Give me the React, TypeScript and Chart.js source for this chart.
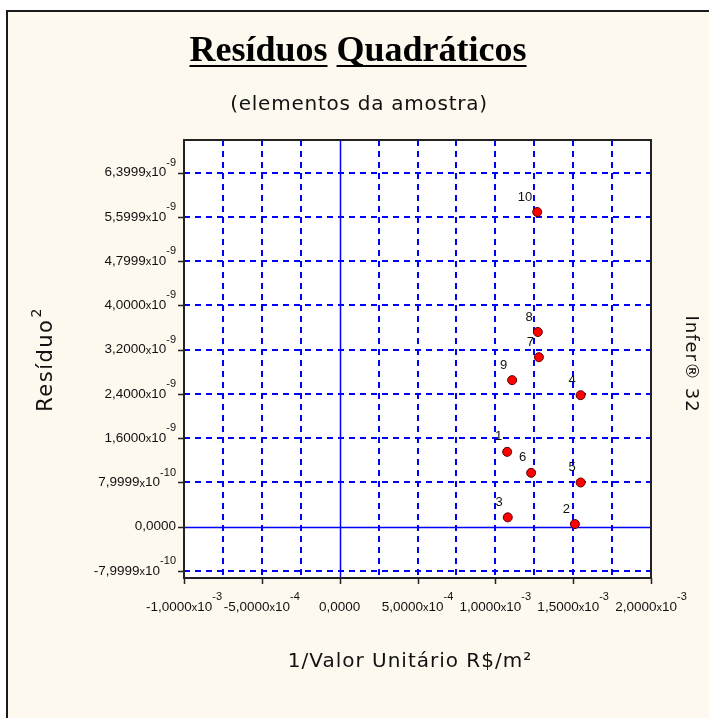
import React, { useEffect, useRef } from 'react';
import { Chart, registerables } from 'chart.js';

Chart.register(...registerables);

// ---- data ----
const pointLabels = ['1', '2', '3', '4', '5', '6', '7', '8', '9', '10'];
const pointX = [1.076e-3, 1.511e-3, 1.080e-3, 1.548e-3, 1.548e-3, 1.230e-3, 1.280e-3, 1.273e-3, 1.108e-3, 1.269e-3];
const pointY = [1.354e-9, 0.049e-9, 0.17e-9, 2.378e-9, 0.80e-9, 0.975e-9, 3.065e-9, 3.52e-9, 2.65e-9, 5.689e-9];

const xMin = -1e-3;
const xMax = 2e-3;
const yMin = -0.926e-9;
const yMax = 6.99e-9;

const xGridValues = [-1e-3, -7.5e-4, -5e-4, -2.5e-4, 0, 2.5e-4, 5e-4, 7.5e-4, 1e-3, 1.25e-3, 1.5e-3, 1.75e-3, 2e-3];
const xTickValues = [-1e-3, -5e-4, 0, 5e-4, 1e-3, 1.5e-3, 2e-3];
const xTickLabels = ['-1,0000x10^-3', '-5,0000x10^-4', '0,0000', '5,0000x10^-4', '1,0000x10^-3', '1,5000x10^-3', '2,0000x10^-3'];
const yTickValues = [-8e-10, 0, 8e-10, 1.6e-9, 2.4e-9, 3.2e-9, 4e-9, 4.8e-9, 5.6e-9, 6.4e-9];
const yTickLabels = ['-7,9999x10^-10', '0,0000', '7,9999x10^-10', '1,6000x10^-9', '2,4000x10^-9', '3,2000x10^-9', '4,0000x10^-9', '4,7999x10^-9', '5,5999x10^-9', '6,3999x10^-9'];

const titleText = 'Resíduos Quadráticos';
const subtitleText = '(elementos da amostra)';
const xTitleText = '1/Valor Unitário R$/m²';
const yTitleBase = 'Resíduo';
const yTitleSup = '2';
const sideText = 'Infer® 32';

const CREAM = '#fef9ee';
const BLUE = '#0000ff';

function setSpacing(ctx: CanvasRenderingContext2D, px: number) {
  (ctx as any).letterSpacing = px + 'px';
}

function drawSciLabel(ctx: CanvasRenderingContext2D, label: string, x: number, y: number, align: 'right' | 'center') {
  const parts = label.split('^');
  const mant = parts[0];
  const exp = parts[1] || '';
  let base = mant;
  let hasX = false;
  if (mant.endsWith('x10')) {
    base = mant.slice(0, -3);
    hasX = true;
  }
  const fMain = '13.5px "Liberation Sans", Arial, sans-serif';
  const fSmall = '11px "Liberation Sans", Arial, sans-serif';
  ctx.font = fMain;
  const wBase = ctx.measureText(base).width;
  const w10 = hasX ? ctx.measureText('10').width : 0;
  ctx.font = fSmall;
  const wX = hasX ? ctx.measureText('x').width : 0;
  const wExp = exp ? ctx.measureText(exp).width : 0;
  const total = wBase + wX + w10 + wExp;
  let sx = align === 'right' ? x - total : x - total / 2;
  ctx.textAlign = 'left';
  ctx.textBaseline = 'middle';
  ctx.fillStyle = '#111';
  ctx.font = fMain;
  ctx.fillText(base, sx, y);
  sx += wBase;
  if (hasX) {
    ctx.font = fSmall;
    ctx.fillText('x', sx, y + 1);
    sx += wX;
    ctx.font = fMain;
    ctx.fillText('10', sx, y);
    sx += w10;
  }
  if (exp) {
    ctx.font = fSmall;
    ctx.fillText(exp, sx, y - 10);
  }
}

const decorPlugin = {
  id: 'decor',
  beforeDraw(chart: any) {
    const ctx = chart.ctx as CanvasRenderingContext2D;
    const { left, right, top, bottom } = chart.chartArea;
    ctx.save();
    ctx.fillStyle = '#ffffff';
    ctx.fillRect(0, 0, chart.width, chart.height);
    ctx.fillStyle = CREAM;
    ctx.fillRect(8, 12, chart.width - 8, chart.height - 12);
    ctx.fillStyle = '#1a1a1a';
    ctx.fillRect(6, 10, chart.width - 6, 2);
    ctx.fillRect(6, 10, 2, chart.height - 10);
    ctx.fillStyle = '#ffffff';
    ctx.fillRect(left, top, right - left, bottom - top);
    ctx.restore();
  },
  beforeDatasetsDraw(chart: any) {
    const ctx = chart.ctx as CanvasRenderingContext2D;
    const { left, right, top, bottom } = chart.chartArea;
    const xs = chart.scales.x;
    const ys = chart.scales.y;
    ctx.save();
    ctx.strokeStyle = BLUE;
    ctx.lineWidth = 1.5;
    const x0 = Math.round(xs.getPixelForValue(0)) + 0.5;
    const y0 = Math.round(ys.getPixelForValue(0)) + 0.5;
    ctx.beginPath();
    ctx.moveTo(x0, top);
    ctx.lineTo(x0, bottom);
    ctx.moveTo(left, y0);
    ctx.lineTo(right, y0);
    ctx.stroke();
    // plot border
    ctx.strokeStyle = '#222';
    ctx.lineWidth = 2;
    ctx.strokeRect(left, top, right - left, bottom - top);
    // tick marks
    ctx.lineWidth = 1.5;
    ctx.beginPath();
    yTickValues.forEach((v) => {
      const py = Math.round(ys.getPixelForValue(v)) + 0.5;
      ctx.moveTo(left - 6, py);
      ctx.lineTo(left, py);
    });
    xTickValues.forEach((v) => {
      const px = Math.round(xs.getPixelForValue(v)) + 0.5;
      ctx.moveTo(px, bottom);
      ctx.lineTo(px, bottom + 6);
    });
    ctx.stroke();
    ctx.restore();
  },
  afterDraw(chart: any) {
    const ctx = chart.ctx as CanvasRenderingContext2D;
    const { left, bottom } = chart.chartArea;
    const xs = chart.scales.x;
    const ys = chart.scales.y;
    ctx.save();
    // tick labels
    yTickValues.forEach((v, i) => {
      drawSciLabel(ctx, yTickLabels[i], left - 8, ys.getPixelForValue(v), 'right');
    });
    xTickValues.forEach((v, i) => {
      drawSciLabel(ctx, xTickLabels[i], xs.getPixelForValue(v), bottom + 29, 'center');
    });
    // point labels
    const meta = chart.getDatasetMeta(0);
    ctx.font = '13px "Liberation Sans", Arial, sans-serif';
    ctx.fillStyle = '#111';
    ctx.textAlign = 'right';
    ctx.textBaseline = 'middle';
    meta.data.forEach((el: any, i: number) => {
      ctx.fillText(pointLabels[i], el.x - 5, el.y - 15);
    });
    // main title (underlined words)
    ctx.font = 'bold 36px "Liberation Serif", "Times New Roman", serif';
    ctx.textBaseline = 'alphabetic';
    ctx.textAlign = 'left';
    ctx.fillStyle = '#000';
    const words = titleText.split(' ');
    const spaceW = ctx.measureText(' ').width;
    const widths = words.map((w) => ctx.measureText(w).width);
    const totalW = widths.reduce((a, b) => a + b, 0) + spaceW * (words.length - 1);
    let tx = 358 - totalW / 2;
    words.forEach((w, i) => {
      ctx.fillText(w, tx, 61);
      ctx.fillRect(tx, 65, widths[i], 2);
      tx += widths[i] + spaceW;
    });
    // subtitle
    ctx.font = '20px "DejaVu Sans", sans-serif';
    setSpacing(ctx, 0.75);
    ctx.textAlign = 'center';
    ctx.textBaseline = 'middle';
    ctx.fillStyle = '#111';
    ctx.fillText(subtitleText, 359, 105);
    // x title
    ctx.font = '20px "DejaVu Sans", sans-serif';
    setSpacing(ctx, 1);
    ctx.fillText(xTitleText, 410, 662);
    // y title rotated
    ctx.save();
    ctx.translate(47, 360);
    ctx.rotate(-Math.PI / 2);
    setSpacing(ctx, 1.5);
    ctx.font = '21px "DejaVu Sans", sans-serif';
    const wb = ctx.measureText(yTitleBase).width;
    ctx.font = '14px "DejaVu Sans", sans-serif';
    const ws = ctx.measureText(yTitleSup).width;
    const start = -(wb + ws) / 2;
    ctx.textAlign = 'left';
    ctx.font = '21px "DejaVu Sans", sans-serif';
    ctx.fillText(yTitleBase, start, 0);
    ctx.font = '14px "DejaVu Sans", sans-serif';
    ctx.fillText(yTitleSup, start + wb + 1, -10);
    ctx.restore();
    // side text rotated clockwise
    ctx.save();
    ctx.translate(691, 364);
    ctx.rotate(Math.PI / 2);
    setSpacing(ctx, 1);
    ctx.font = '18px "DejaVu Sans", sans-serif';
    ctx.textAlign = 'center';
    ctx.textBaseline = 'middle';
    ctx.fillStyle = '#111';
    ctx.fillText(sideText, 0, 0);
    ctx.restore();
    setSpacing(ctx, 0);
    ctx.restore();
  },
};

export default function App() {
  const canvasRef = useRef<HTMLCanvasElement | null>(null);

  useEffect(() => {
    const canvas = canvasRef.current;
    if (!canvas) return;
    const chart = new Chart(canvas, {
      type: 'scatter',
      data: {
        datasets: [
          {
            data: pointX.map((x, i) => ({ x, y: pointY[i] })),
            pointRadius: 4.5,
            pointHoverRadius: 4.5,
            backgroundColor: '#ff0000',
            borderColor: '#5a0000',
            borderWidth: 1,
          },
        ],
      },
      options: {
        responsive: false,
        animation: false,
        events: [],
        layout: { padding: { left: 184, right: 58, top: 140, bottom: 140 } },
        plugins: { legend: { display: false }, tooltip: { enabled: false } },
        scales: {
          x: {
            type: 'linear',
            min: xMin,
            max: xMax,
            afterBuildTicks: (s: any) => {
              s.ticks = xGridValues.map((v) => ({ value: v }));
            },
            afterFit: (s: any) => {
              s.height = 0;
            },
            ticks: { display: false },
            grid: {
              drawTicks: false,
              lineWidth: 2,
              color: (c: any) => {
                const v = c.tick ? c.tick.value : 0;
                return v === 0 || v === xMin || v === xMax ? 'rgba(0,0,0,0)' : BLUE;
              },
            },
            border: { display: false, dash: [6, 5] },
          },
          y: {
            type: 'linear',
            min: yMin,
            max: yMax,
            afterBuildTicks: (s: any) => {
              s.ticks = yTickValues.map((v) => ({ value: v }));
            },
            afterFit: (s: any) => {
              s.width = 0;
            },
            ticks: { display: false },
            grid: {
              drawTicks: false,
              lineWidth: 2,
              color: (c: any) => {
                const v = c.tick ? c.tick.value : 0;
                return v === 0 ? 'rgba(0,0,0,0)' : BLUE;
              },
            },
            border: { display: false, dash: [6, 5] },
          },
        },
      } as any,
      plugins: [decorPlugin],
    });
    return () => chart.destroy();
  }, []);

  return (
    <div style={{ position: 'absolute', left: 0, top: 0, width: 709, height: 718 }}>
      <canvas ref={canvasRef} width={709} height={718} style={{ display: 'block', width: 709, height: 718 }} />
    </div>
  );
}
